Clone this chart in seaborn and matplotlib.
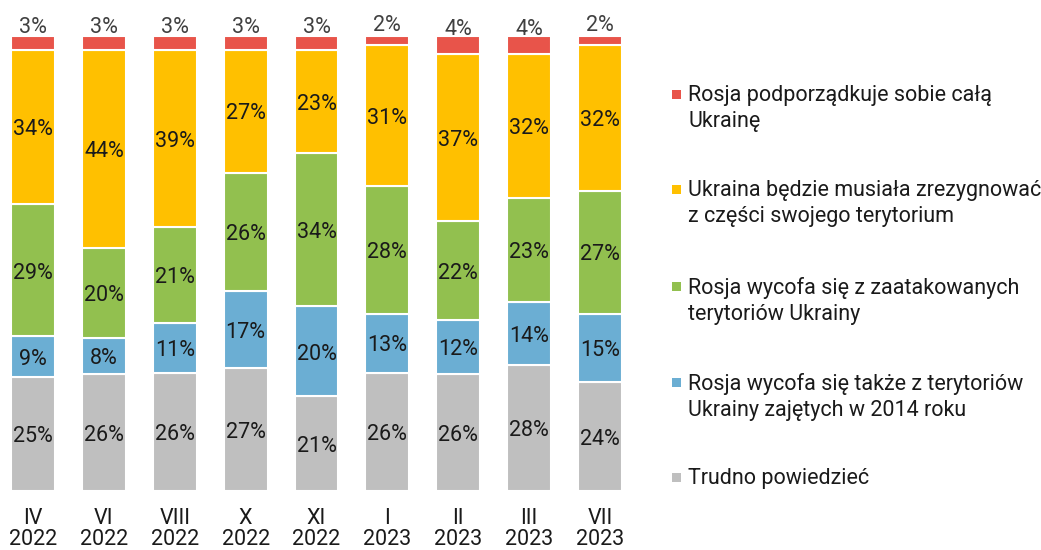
import numpy as np
import pandas as pd
import matplotlib.pyplot as plt
from matplotlib.patches import Rectangle
import seaborn as sns

# Data
periods = ['IV\n2022', 'VI\n2022', 'VIII\n2022', 'X\n2022', 'XI\n2022',
           'I\n2023', 'II\n2023', 'III\n2023', 'VII\n2023']
trudno = [25, 26, 26, 27, 21, 26, 26, 28, 24]
wycofa_2014 = [9, 8, 11, 17, 20, 13, 12, 14, 15]
wycofa_zaatak = [29, 20, 21, 26, 34, 28, 22, 23, 27]
zrezygnowac = [34, 44, 39, 27, 23, 31, 37, 32, 32]
podporzadkuje = [3, 3, 3, 3, 3, 2, 4, 4, 2]

series_names = [
    'Trudno powiedzieć',
    'Rosja wycofa się także z terytoriów\nUkrainy zajętych w 2014 roku',
    'Rosja wycofa się z zaatakowanych\nterytoriów Ukrainy',
    'Ukraina będzie musiała zrezygnować\nz części swojego terytorium',
    'Rosja podporządkuje sobie całą\nUkrainę',
]
colors = ['#BFBFBF', '#6BAED3', '#92C04F', '#FFC000', '#E8544A']

sns.set_style('white')
plt.rcParams['font.family'] = ['Roboto', 'DejaVu Sans']
FS = 15.5

values = np.array([trudno, wycofa_2014, wycofa_zaatak, zrezygnowac, podporzadkuje], dtype=float)
totals = values.sum(axis=0)
shares = values / totals * 100  # bars drawn as 100% stacks

fig = plt.figure(figsize=(10.41, 5.5), dpi=100)
ax = fig.add_axes([0.4 / 1041, 59 / 550, 632.2 / 1041, 455 / 550])

bottom = np.zeros(len(periods))
for k in range(len(series_names)):
    df = pd.DataFrame({'period': periods, 'share': shares[k]})
    sns.barplot(data=df, x='period', y='share', bottom=bottom, color=colors[k],
                width=0.62, edgecolor='white', linewidth=1.5, saturation=1, ax=ax)
    for i in range(len(periods)):
        mid = bottom[i] + shares[k][i] / 2
        label = f'{int(values[k][i])}%'
        if k == len(series_names) - 1:
            ax.annotate(label, (i, mid), xytext=(0, 11), textcoords='offset points',
                        ha='center', va='center', fontsize=FS, color='#404040')
        else:
            ax.annotate(label, (i, mid), xytext=(0, -2), textcoords='offset points',
                        ha='center', va='center', fontsize=FS, color='#1a1a1a')
    bottom += shares[k]

ax.set_xlim(-0.46, 8.46)
ax.set_ylim(0, 100)
ax.set_xlabel('')
ax.set_ylabel('')
ax.set_yticks([])
ax.tick_params(axis='x', length=0, pad=12, labelsize=FS, labelcolor='#1a1a1a')
for t in ax.get_xticklabels():
    t.set_linespacing(1.05)
for s in ax.spines.values():
    s.set_visible(False)
ax.patch.set_alpha(0)

# Legend (top entry first), marker aligned with the first line of text
legend_tops = [85, 180, 277, 373, 468]
for j, k in enumerate(range(len(series_names) - 1, -1, -1)):
    y = legend_tops[j]
    fig.text(688 / 1041, 1 - y / 550, series_names[k], ha='left', va='top',
             fontsize=FS, color='#1a1a1a', linespacing=1.32)
    fig.add_artist(Rectangle((672 / 1041, 1 - (y + 14) / 550), 9 / 1041, 9 / 550,
                             transform=fig.transFigure, facecolor=colors[k],
                             edgecolor='none'))

fig.savefig('out.png', dpi=100)
